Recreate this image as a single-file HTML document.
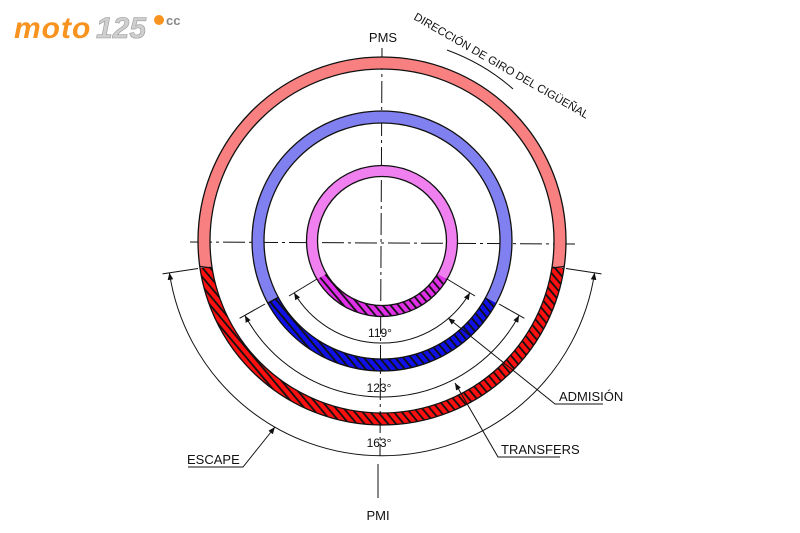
<!DOCTYPE html>
<html><head><meta charset="utf-8"><style>
html,body{margin:0;padding:0;background:#fff;width:800px;height:533px;overflow:hidden}
svg{display:block}
text{font-family:"Liberation Sans",sans-serif;fill:#111}
</style></head><body>
<svg width="800" height="533" viewBox="0 0 800 533" xmlns="http://www.w3.org/2000/svg">
<defs>
<pattern id="hr" patternUnits="userSpaceOnUse" width="6" height="6" patternTransform="rotate(-40)">
<rect width="6" height="6" fill="#ff1010"/><rect width="1.8" height="6" fill="#111"/></pattern>
<pattern id="hb" patternUnits="userSpaceOnUse" width="6" height="6" patternTransform="rotate(-40)">
<rect width="6" height="6" fill="#1010e8"/><rect width="1.8" height="6" fill="#111"/></pattern>
<pattern id="hm" patternUnits="userSpaceOnUse" width="6" height="6" patternTransform="rotate(-40)">
<rect width="6" height="6" fill="#e030e8"/><rect width="1.8" height="6" fill="#111"/></pattern>
<marker id="ar" viewBox="0 0 10 10" refX="10" refY="5" markerWidth="7" markerHeight="7" orient="auto-start-reverse" markerUnits="userSpaceOnUse">
<path d="M0,1 L10,5 L0,9 Z" fill="#111"/></marker>
</defs>

<text x="14" y="38" font-size="30" font-weight="bold" font-style="italic" style="fill:#f7931e;letter-spacing:1px">moto</text>
<text x="96" y="38" font-size="30" font-weight="bold" font-style="italic" style="fill:#cfcfcf;stroke:#999;stroke-width:0.6">125</text>
<circle cx="159" cy="20" r="5" fill="#f7931e"/>
<text x="166" y="25" font-size="13" font-weight="bold" style="fill:#888">cc</text>

<line x1="382" y1="48" x2="380" y2="456" stroke="#111" stroke-width="1" stroke-dasharray="22,4,3,4"/>
<line x1="190" y1="242" x2="576" y2="244" stroke="#111" stroke-width="1" stroke-dasharray="22,4,3,4"/>

<path d="M206,267.3 A178,178 0 1 1 558,267.3" fill="none" stroke="#f88080" stroke-width="12"/>
<path d="M206,267.3 A178,178 0 0 0 558,267.3" fill="none" stroke="url(#hr)" stroke-width="12"/>
<circle cx="382" cy="241" r="184" fill="none" stroke="#111" stroke-width="1.3"/>
<circle cx="382" cy="241" r="172" fill="none" stroke="#111" stroke-width="1.3"/>
<line x1="200" y1="266.5" x2="212" y2="268" stroke="#111" stroke-width="1.3"/>
<line x1="552" y1="268" x2="564" y2="266.5" stroke="#111" stroke-width="1.3"/>

<path d="M273,300.2 A124,124 0 1 1 491,300.2" fill="none" stroke="#8080f0" stroke-width="12"/>
<path d="M273,300.2 A124,124 0 0 0 491,300.2" fill="none" stroke="url(#hb)" stroke-width="12"/>
<circle cx="382" cy="241" r="130" fill="none" stroke="#111" stroke-width="1.3"/>
<circle cx="382" cy="241" r="118" fill="none" stroke="#111" stroke-width="1.3"/>
<line x1="268" y1="303" x2="278" y2="297.5" stroke="#111" stroke-width="1.3"/>

<path d="M321.7,276.5 A70,70 0 1 1 442.3,276.5" fill="none" stroke="#f080f0" stroke-width="11"/>
<path d="M321.7,276.5 A70,70 0 0 0 442.3,276.5" fill="none" stroke="url(#hm)" stroke-width="11"/>
<circle cx="382" cy="241" r="75.5" fill="none" stroke="#111" stroke-width="1.3"/>
<circle cx="382" cy="241" r="64.5" fill="none" stroke="#111" stroke-width="1.3"/>

<g stroke="#111" stroke-width="1" fill="none">
<line x1="317" y1="279" x2="289" y2="296"/>
<line x1="447" y1="279" x2="475" y2="296"/>
<path d="M294.1,292.8 A102,102 0 0 0 469.9,292.8" marker-start="url(#ar)" marker-end="url(#ar)"/>
<line x1="265" y1="304" x2="239.6" y2="318.3"/>
<line x1="499" y1="304" x2="524.4" y2="318.3"/>
<path d="M244.9,315.4 A156,156 0 0 0 519.1,315.4" marker-start="url(#ar)" marker-end="url(#ar)"/>
<line x1="198" y1="268.5" x2="162.5" y2="273.9"/>
<line x1="566" y1="268.5" x2="601.5" y2="273.9"/>
<path d="M169.4,272.8 A215,215 0 0 0 594.6,272.8" marker-start="url(#ar)" marker-end="url(#ar)"/>
<path d="M448,318 L555,404 L603,404" marker-start="url(#ar)"/>
<path d="M455,383 L498,457 L560,457" marker-start="url(#ar)"/>
<path d="M275,427 L243,467 L188,467" marker-start="url(#ar)"/>
<line x1="378" y1="464" x2="378" y2="498"/>
<path d="M447,50 Q485,64 513,89"/>
</g>

<text x="380" y="337" font-size="12" text-anchor="middle">119°</text>
<text x="379" y="392" font-size="12" text-anchor="middle">123°</text>
<text x="379" y="447" font-size="12" text-anchor="middle">163°</text>
<text x="383" y="42" font-size="13" text-anchor="middle">PMS</text>
<text x="378" y="520" font-size="13" text-anchor="middle">PMI</text>
<text x="559" y="401" font-size="13">ADMISIÓN</text>
<text x="501" y="454" font-size="13">TRANSFERS</text>
<text x="187" y="464" font-size="13">ESCAPE</text>
<text x="0" y="0" font-size="11.3" transform="translate(413,19) rotate(30)">DIRECCIÓN DE GIRO DEL CIGÜEÑAL</text>
</svg>
</body></html>
